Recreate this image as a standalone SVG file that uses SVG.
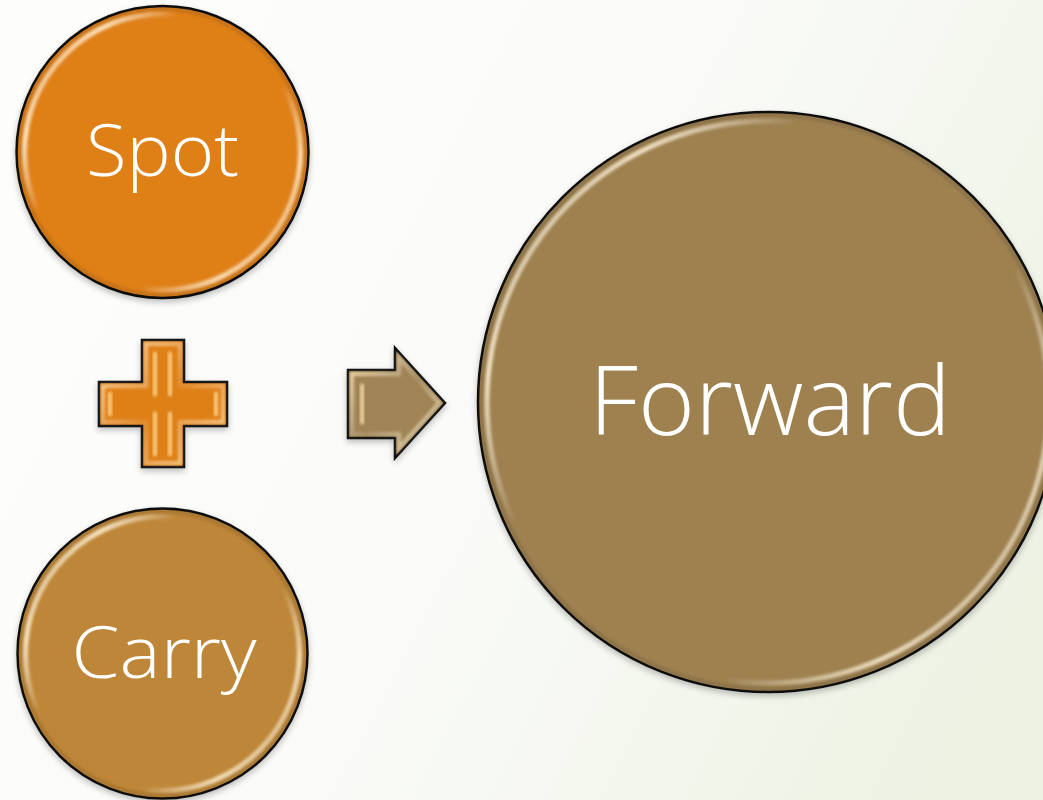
<svg xmlns="http://www.w3.org/2000/svg" width="1043" height="800" viewBox="0 0 1043 800">
  <defs>
    <linearGradient id="bg" x1="0" y1="0.3" x2="1" y2="0.7">
      <stop offset="0" stop-color="#FDFDFC"/>
      <stop offset="0.5" stop-color="#FAFBF8"/>
      <stop offset="1" stop-color="#EDF2E3"/>
    </linearGradient>
    <linearGradient id="gloss" x1="0" y1="0.15" x2="1" y2="0.85">
      <stop offset="0" stop-color="#FFFFFF" stop-opacity="0.2"/>
      <stop offset="0.14" stop-color="#FFF3D8" stop-opacity="0.85"/>
      <stop offset="0.3" stop-color="#FFFFFF" stop-opacity="0"/>
      <stop offset="0.68" stop-color="#FFFFFF" stop-opacity="0"/>
      <stop offset="0.85" stop-color="#FFF3D8" stop-opacity="0.8"/>
      <stop offset="1" stop-color="#FFFFFF" stop-opacity="0.2"/>
    </linearGradient>
    <linearGradient id="bevel" x1="0" y1="0" x2="1" y2="1">
      <stop offset="0" stop-color="#FFE0A0" stop-opacity="0.9"/>
      <stop offset="0.5" stop-color="#FFFFFF" stop-opacity="0.1"/>
      <stop offset="1" stop-color="#FFE0A0" stop-opacity="0.9"/>
    </linearGradient>
    <filter id="blur" x="-10%" y="-10%" width="120%" height="120%">
      <feGaussianBlur stdDeviation="1.6"/>
    </filter>
    <filter id="shadow" x="-10%" y="-10%" width="120%" height="125%">
      <feGaussianBlur in="SourceAlpha" stdDeviation="3"/>
      <feOffset dx="0" dy="3" result="b"/>
      <feComponentTransfer><feFuncA type="linear" slope="0.25"/></feComponentTransfer>
      <feMerge><feMergeNode/><feMergeNode in="SourceGraphic"/></feMerge>
    </filter>
  </defs>
  <style>
    .ring { fill: none; stroke: url(#gloss); stroke-width: 5; filter: url(#blur); }
    .edge { fill: none; stroke: #000000; stroke-opacity: 0.12; stroke-width: 4; filter: url(#blur); }
    .outline { stroke: #111111; stroke-width: 2.5; }
    .label { font-family: "Open Sans", "DejaVu Sans", "Liberation Sans", sans-serif; font-weight: 300; fill: #FFFFFF; text-anchor: middle; }
  </style>
  <rect x="0" y="0" width="1043" height="800" fill="url(#bg)"/>

  <g id="spot" filter="url(#shadow)">
    <circle cx="162.5" cy="152" r="146" fill="#DF8019" class="outline"/>
    <circle cx="162.5" cy="152" r="143" class="edge"/>
    <circle cx="162.5" cy="152" r="138" class="ring"/>
    <text x="162.5" y="176" class="label" font-size="71" textLength="153" lengthAdjust="spacingAndGlyphs">Spot</text>
  </g>

  <g id="carry" filter="url(#shadow)">
    <circle cx="162.5" cy="653.5" r="145" fill="#BE8637" class="outline"/>
    <circle cx="162.5" cy="653.5" r="142" class="edge"/>
    <circle cx="162.5" cy="653.5" r="137" class="ring"/>
    <text x="164" y="678" class="label" font-size="71" textLength="185" lengthAdjust="spacingAndGlyphs">Carry</text>
  </g>

  <g id="forward" filter="url(#shadow)">
    <circle cx="768" cy="402" r="290" fill="#9E8150" class="outline"/>
    <circle cx="768" cy="402" r="287" class="edge"/>
    <circle cx="768" cy="402" r="281" class="ring"/>
    <text x="770" y="435" class="label" font-size="95" textLength="362" lengthAdjust="spacingAndGlyphs">Forward</text>
  </g>

  <g id="connectors">
    <g id="plus" filter="url(#shadow)">
      <path d="M142,340 H184 V382 H227 V426 H184 V467 H142 V426 H99 V382 H142 Z" fill="#DF8019" class="outline"/>
      <path d="M146,344 H180 V386 H223 V422 H180 V463 H146 V422 H103 V386 H146 Z" fill="none" stroke="url(#bevel)" stroke-width="4" filter="url(#blur)"/>
      <rect x="153" y="352" width="4" height="44" fill="#FFD890" opacity="0.85" filter="url(#blur)"/>
      <rect x="168" y="352" width="4" height="44" fill="#FFD890" opacity="0.85" filter="url(#blur)"/>
      <rect x="153" y="412" width="4" height="44" fill="#FFD890" opacity="0.85" filter="url(#blur)"/>
      <rect x="168" y="412" width="4" height="44" fill="#FFD890" opacity="0.85" filter="url(#blur)"/>
      <rect x="108" y="392" width="4" height="24" fill="#FFD890" opacity="0.85" filter="url(#blur)"/>
      <rect x="214" y="392" width="4" height="24" fill="#FFD890" opacity="0.85" filter="url(#blur)"/>
    </g>
    <g id="arrow" filter="url(#shadow)">
      <path d="M348,370 H395 V348 L445,403 L395,458 V438 H348 Z" fill="#A08455" class="outline"/>
      <path d="M352,374 H399 V358 L439,403 L399,448 V434 H352 Z" fill="none" stroke="url(#bevel)" stroke-width="4" filter="url(#blur)"/>
      <rect x="360" y="384" width="4" height="40" fill="#FFE6B0" opacity="0.8" filter="url(#blur)"/>
    </g>
  </g>
</svg>
